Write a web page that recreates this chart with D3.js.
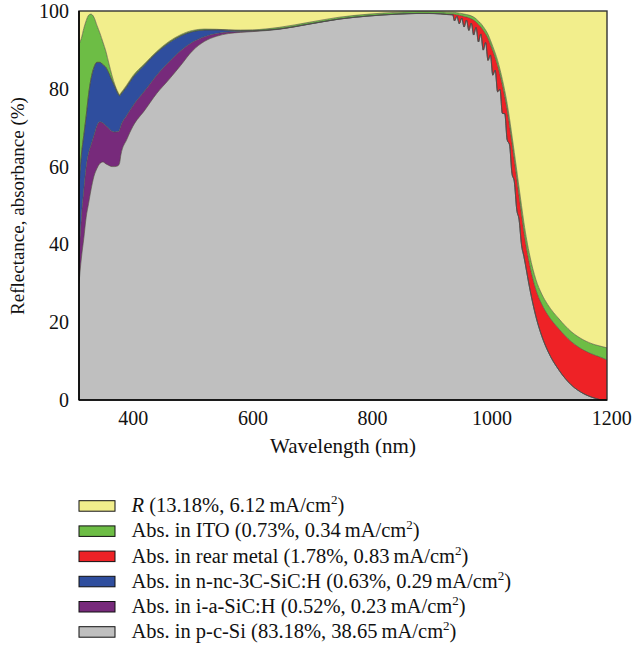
<!DOCTYPE html>
<html>
<head>
<meta charset="utf-8">
<script src="https://cdn.jsdelivr.net/npm/d3@7"></script>
<style>
  body { margin: 0; background: #fff; }
  text { font-family: "Liberation Serif", "Times New Roman", serif; fill: #111; }
</style>
</head>
<body>
<svg id="chart" width="632" height="650"></svg>
<script>
// Wavelength grid (nm)
const wavelength = [
  310, 314, 318, 322, 326, 330, 335, 340, 345, 350, 355, 360, 365, 370, 375, 378, 380, 390, 400,
  420, 440, 460, 480, 500, 520, 540, 560, 580, 600,
  645, 695, 745, 795, 845, 875, 895, 915, 925, 935,
  938, 942, 946, 950, 954, 958, 962, 966, 970, 974, 978, 982, 986, 990, 994, 998,
  1002, 1006, 1010, 1014, 1018, 1022, 1026, 1030, 1034, 1038, 1042, 1046, 1050, 1054,
  1064, 1074, 1084, 1094, 1113, 1133, 1153, 1173, 1183, 1193
];

// Absorption in p-c-Si (%)
const absPcSi = [
  30, 36.5, 41.5, 47, 50.5, 54, 57.5, 59.5, 60.8, 61.2, 60.7, 60.3, 60.0, 60.0, 60.2, 61.0, 63.0, 67.0, 70.3,
  74.5, 78.8, 82.3, 86.0, 89.8, 92.2, 93.5, 94.2, 94.5, 94.7,
  95.3, 96.6, 97.9, 98.7, 99.2, 99.35, 99.35, 99.25, 99.1, 99.0,
  97.45, 98.63, 96.70, 98.17, 95.88, 97.64, 95.00, 96.91, 93.82, 95.78, 92.04, 94.10, 89.95, 91.90, 87.30, 88.70,
  83.50, 84.80, 79.22, 79.85, 73.68, 73.60, 66.90, 65.60, 58.30, 56.10, 49.00, 46.30, 39.90, 36.90,
  28.5, 21.5, 16.4, 12.6, 7.6, 3.9, 1.7, 0.45, 0.05, 0.0
];

// Absorption in i-a-SiC:H (%)
const absIaSiC = [
  7, 10.5, 12.5, 13, 13, 11.5, 10.5, 11, 10.7, 10, 9.8, 9.5, 9.1, 8.9, 8.8, 8.5, 7.5, 6.2, 5.3,
  5.0, 4.7, 4.5, 3.8, 2.2, 1.2, 0.7, 0.4, 0.25, 0.15,
  0.05, 0.03, 0.02, 0.02, 0.01, 0.01, 0.01, 0, 0, 0,
  0, 0, 0, 0, 0, 0, 0, 0, 0, 0, 0, 0, 0, 0, 0, 0,
  0, 0, 0, 0, 0, 0, 0, 0, 0, 0, 0, 0, 0, 0,
  0, 0, 0, 0, 0, 0, 0, 0, 0, 0
];

// Absorption in n-nc-3C-SiC:H (%)
const absNncSiC = [
  18, 16, 14, 13, 15, 17, 17.5, 16.3, 15.3, 15, 15, 14.2, 13.1, 11.6, 9.8, 8.7, 8.1, 7.4, 7.3,
  6.7, 5.8, 5.0, 3.8, 2.7, 1.7, 0.95, 0.45, 0.2, 0.1,
  0.05, 0.03, 0.02, 0.02, 0.01, 0.01, 0.01, 0, 0, 0,
  0, 0, 0, 0, 0, 0, 0, 0, 0, 0, 0, 0, 0, 0, 0, 0,
  0, 0, 0, 0, 0, 0, 0, 0, 0, 0, 0, 0, 0, 0,
  0, 0, 0, 0, 0, 0, 0, 0, 0, 0
];

// Absorption in the rear metal (%)
const absRearMetal = [
  0, 0, 0, 0, 0, 0, 0, 0, 0, 0, 0, 0, 0, 0, 0, 0, 0, 0, 0,
  0, 0, 0, 0, 0, 0, 0, 0, 0, 0,
  0, 0, 0, 0, 0, 0, 0.02, 0.05, 0.1, 0.2,
  1.70, 0.40, 2.20, 0.60, 2.70, 0.80, 3.25, 1.10, 3.85, 1.40, 4.50, 1.80, 5.10, 2.20, 5.65, 2.70,
  6.25, 3.20, 6.80, 3.80, 7.30, 4.40, 7.70, 5.00, 7.90, 5.60, 8.10, 6.10, 7.90, 6.40,
  6.0, 6.9, 8.2, 9.3, 10.6, 11.15, 11.2, 11.05, 10.9, 10.3
];

// Absorption in ITO (%)
const absIto = [
  36.5, 30, 27.5, 24.5, 20.4, 16.7, 12.9, 9.5, 7.5, 5.8, 4.1, 2.5, 1.3, 0.5, 0.4, 0.3, 0.3, 0.4, 0.4,
  0.3, 0.3, 0.3, 0.3, 0.3, 0.25, 0.15, 0.1, 0.15, 0.2,
  0.4, 0.44, 0.46, 0.46, 0.48, 0.48, 0.46, 0.5, 0.5, 0.5,
  0.50, 0.52, 0.55, 0.58, 0.62, 0.66, 0.70, 0.74, 0.78, 0.82, 0.86, 0.90, 0.95, 1.00, 1.05, 1.10,
  1.15, 1.20, 1.28, 1.35, 1.42, 1.50, 1.60, 1.70, 1.80, 1.90, 2.00, 2.10, 2.20, 2.30,
  2.5, 2.6, 2.6, 2.6, 2.6, 2.55, 2.6, 2.7, 2.85, 3.1
];

// Reflectance R (%)
const reflectance = [
  8.5, 7, 4.5, 2.5, 1.1, 0.8, 1.6, 3.7, 5.7, 8.0, 10.4, 13.5, 16.5, 19.0, 20.8, 21.5, 21.1, 19.0, 16.7,
  13.5, 10.4, 7.9, 6.1, 5.0, 4.65, 4.7, 4.85, 4.9, 4.85,
  4.2, 2.9, 1.6, 0.8, 0.3, 0.15, 0.15, 0.2, 0.3, 0.3,
  0.35, 0.45, 0.55, 0.65, 0.80, 0.90, 1.05, 1.25, 1.55, 2.00, 2.60, 3.20, 4.00, 4.90, 6.00, 7.50,
  9.10, 10.80, 12.70, 15.00, 17.60, 20.50, 23.80, 27.70, 32.00, 36.40, 40.90, 45.50, 50.00, 54.40,
  63.0, 69.0, 72.8, 75.5, 79.2, 82.4, 84.5, 85.8, 86.2, 86.6
];

const xTicks = [400, 600, 800, 1000, 1200];
const yTicks = [0, 20, 40, 60, 80, 100];

// Stack order, bottom to top
const layerKeys = ["pcSi", "iaSiC", "nncSiC", "rearMetal", "ito", "R"];
const layerColors = {
  pcSi: "#bfbfbf", iaSiC: "#772a7b", nncSiC: "#2f4e9e",
  rearMetal: "#ee2226", ito: "#6dbd45", R: "#f2ee8c"
};

// Legend entries, top to bottom
const legendKeys = ["R", "ito", "rearMetal", "nncSiC", "iaSiC", "pcSi"];
const legendNames = ["R", "Abs. in ITO", "Abs. in rear metal", "Abs. in n-nc-3C-SiC:H", "Abs. in i-a-SiC:H", "Abs. in p-c-Si"];
const legendPercents = ["13.18%", "0.73%", "1.78%", "0.63%", "0.52%", "83.18%"];
const legendCurrents = ["6.12", "0.34", "0.83", "0.29", "0.23", "38.65"];

const rows = wavelength.map((w, i) => ({
  w,
  pcSi: absPcSi[i], iaSiC: absIaSiC[i], nncSiC: absNncSiC[i],
  rearMetal: absRearMetal[i], ito: absIto[i], R: reflectance[i]
}));

const svg = d3.select("#chart");
const x = d3.scaleLinear().domain([310, 1193]).range([79, 607]);
const y = d3.scaleLinear().domain([0, 100]).range([400, 11]);

svg.append("clipPath").attr("id", "plot-clip")
  .append("rect").attr("x", 79).attr("y", 11).attr("width", 528).attr("height", 389);

// Plot background uses the reflectance colour so the top always reaches 100 %
const plot = svg.append("g").attr("clip-path", "url(#plot-clip)");
plot.append("rect").attr("x", 79).attr("y", 11).attr("width", 528).attr("height", 389)
  .attr("fill", layerColors.R);

const series = d3.stack().keys(layerKeys)(rows);

const area = d3.area()
  .x(d => x(d.data.w))
  .y0(d => y(d[0]))
  .y1(d => y(d[1]))
  .curve(d3.curveMonotoneX);

plot.selectAll("path.layer")
  .data(series)
  .join("path")
  .attr("class", "layer")
  .attr("fill", s => layerColors[s.key])
  .attr("d", area);

// Thin dark outline along the top of every absorbing layer
const topLine = d3.line()
  .x(d => x(d.data.w))
  .y(d => y(d[1]))
  .curve(d3.curveMonotoneX);

plot.selectAll("path.edge")
  .data(series.filter(s => s.key !== "R"))
  .join("path")
  .attr("class", "edge")
  .attr("fill", "none")
  .attr("stroke", "#4a4a4a")
  .attr("stroke-width", 0.7)
  .attr("stroke-opacity", 0.85)
  .attr("d", topLine);

// Frame
svg.append("rect").attr("x", 79).attr("y", 11).attr("width", 528).attr("height", 389)
  .attr("fill", "none").attr("stroke", "#333").attr("stroke-width", 1.4);
svg.append("line").attr("x1", 79).attr("x2", 79).attr("y1", 11).attr("y2", 400)
  .attr("stroke", "#000").attr("stroke-width", 1.6);
svg.append("line").attr("x1", 79).attr("x2", 607).attr("y1", 400).attr("y2", 400)
  .attr("stroke", "#000").attr("stroke-width", 1.6);

// Axes
const yAxis = svg.append("g").attr("transform", "translate(79,0)")
  .call(d3.axisLeft(y).tickValues(yTicks).tickSize(0).tickPadding(10).tickFormat(d3.format("d")));
const xAxis = svg.append("g").attr("transform", "translate(0,400)")
  .call(d3.axisBottom(x).tickValues(xTicks).tickSize(0).tickPadding(11).tickFormat(d3.format("d")));
[yAxis, xAxis].forEach(g => {
  g.select(".domain").remove();
  g.selectAll("text").attr("font-family", "Liberation Serif, serif")
    .attr("font-size", 20).attr("fill", "#111");
});

svg.append("text")
  .attr("x", 343).attr("y", 453)
  .attr("text-anchor", "middle").attr("font-size", 21)
  .text("Wavelength (nm)");

svg.append("text")
  .attr("transform", "translate(24,206) rotate(-90)")
  .attr("text-anchor", "middle").attr("font-size", 19)
  .text("Reflectance, absorbance (%)");

// Legend
const legend = svg.append("g");
legendKeys.forEach((k, i) => {
  const cy = 505.7 + i * 25.2;
  legend.append("rect")
    .attr("x", 79).attr("y", cy - 5).attr("width", 36).attr("height", 10.5)
    .attr("fill", layerColors[k]).attr("stroke", "#111").attr("stroke-width", 1);
  const t = legend.append("text").attr("x", 131.5).attr("y", cy + 6.5).attr("font-size", 20.5);
  t.append("tspan").attr("font-style", i === 0 ? "italic" : "normal").text(legendNames[i]);
  t.append("tspan").text(" (" + legendPercents[i] + ", " + legendCurrents[i] + "\u2009mA/cm");
  t.append("tspan").attr("font-size", 13).attr("dy", -8).text("2");
  t.append("tspan").attr("dy", 8).text(")");
});
</script>
</body>
</html>
